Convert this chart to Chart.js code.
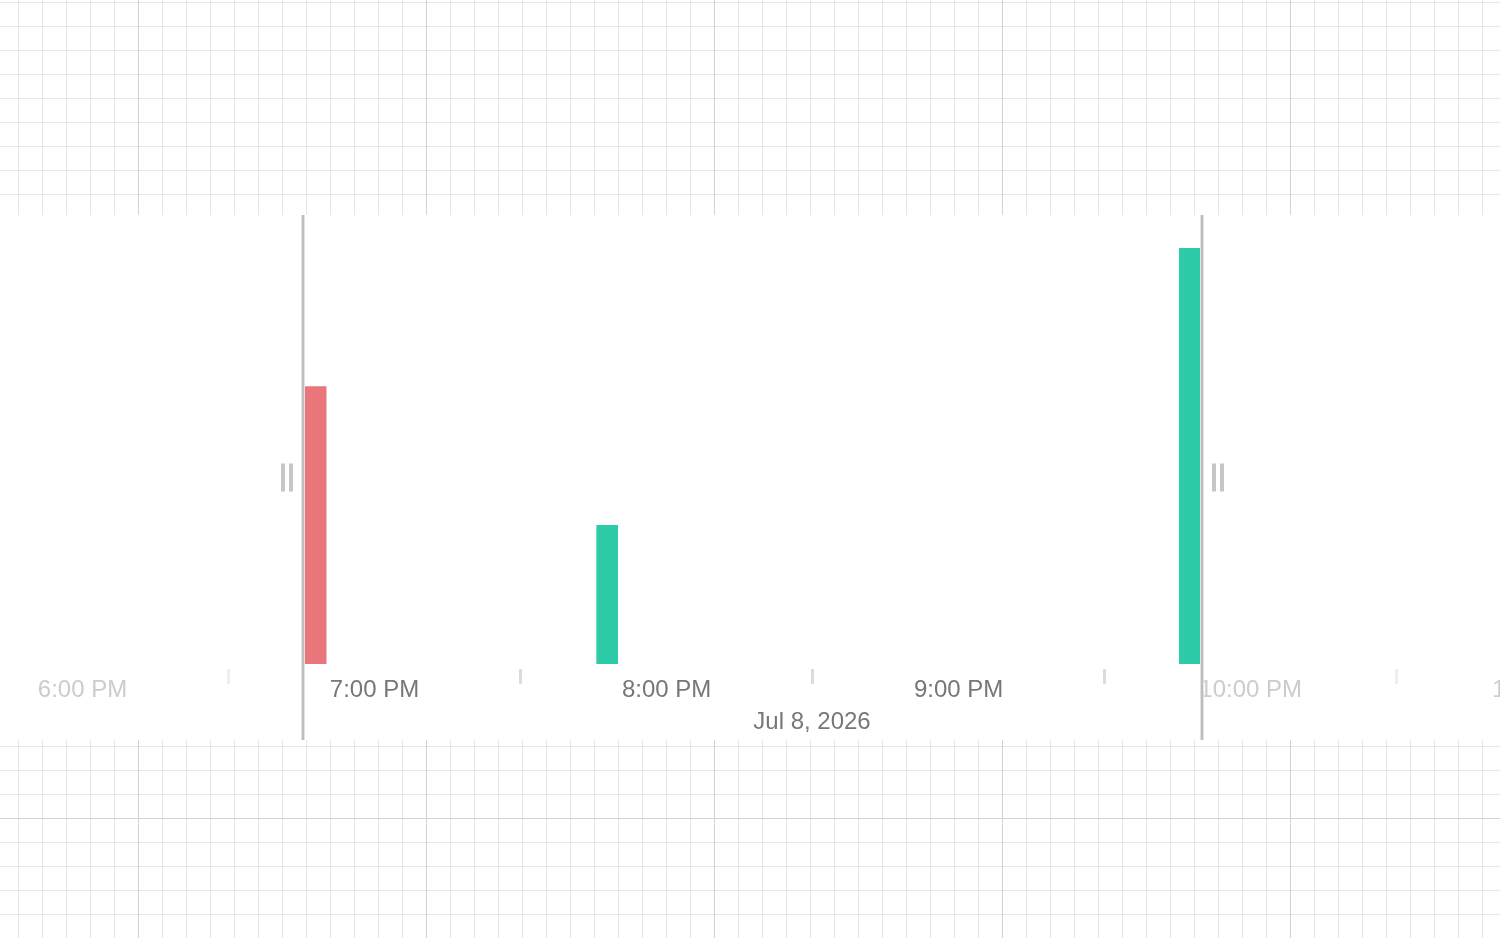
<!DOCTYPE html>
<html>
<head>
<meta charset="utf-8">
<script src="https://cdn.jsdelivr.net/npm/chart.js@4/dist/chart.umd.min.js"></script>
<style>
  html, body {
    margin: 0;
    width: 1500px;
    height: 938px;
    overflow: hidden;
  }
  body {
    background-color: #fff;
    background-image:
      linear-gradient(to right, #d2d2d2 1px, transparent 1px),
      linear-gradient(to bottom, #d2d2d2 1px, transparent 1px),
      linear-gradient(to right, #e6e6e6 1px, transparent 1px),
      linear-gradient(to bottom, #e6e6e6 1px, transparent 1px);
    background-size: 288px 288px, 288px 288px, 24px 24px, 24px 24px;
    background-position: 138px 0, 0 242px, 18px 2px, 18px 2px;
  }
  #timeline {
    position: absolute;
    top: 215px;
    left: 0;
    width: 1624px;
    height: 525px;
    background: #fff;
  }
</style>
</head>
<body>
<div id="timeline"><canvas id="timeline-chart"></canvas></div>
<script>
// minutes after 6:00 PM
const barMinutes = [47.9, 107.8, 227.5]
const barCounts = [2, 1, 3]
const barStatus = ['error', 'ok', 'ok']

const viewStart = -16.95
const viewEnd = 316.7
const selection = [45.3, 230.0]
const dayLabel = 'Jul 8, 2026'

const statusColors = { error: '#e8767a', ok: '#2ecba9' }
const fontFamily = '"Liberation Sans", Arial, sans-serif'

function inSelection(value) {
    return value >= selection[0] && value <= selection[1]
}

function hourLabel(value) {
    if (value % 60 !== 0) return ''
    let h = 6 + value / 60
    if (h > 12) h = h - 12
    return h + ':00 PM'
}

// selection handles drawn over the chart
const selectionPlugin = {
    id: 'selection',
    afterDraw(chart) {
        const ctx = chart.ctx
        const xScale = chart.scales.x
        const h = chart.height
        const mid = h / 2
        selection.forEach((value, i) => {
            const x = Math.round(xScale.getPixelForValue(value))
            ctx.save()
            ctx.fillStyle = '#e2e2e2'
            ctx.fillRect(x - 2, 0, 4, h)
            ctx.fillStyle = '#bebebe'
            ctx.fillRect(x - 1, 0, 2, h)

            // grip
            const dir = i === 0 ? -1 : 1
            ctx.fillStyle = '#c6c6c6'
            const g1 = dir < 0 ? x - 22 : x + 10
            const g2 = dir < 0 ? x - 14 : x + 18
            ctx.fillRect(g1, mid - 14, 4, 28)
            ctx.fillRect(g2, mid - 14, 4, 28)
            ctx.restore()
        })
    }
}

function setTimelineChart() {
    const ctx = document.getElementById('timeline-chart')
    const data = {
        datasets: [{
            label: 'Events',
            data: barMinutes.map((m, i) => ({ x: m, y: barCounts[i] })),
            backgroundColor: barStatus.map(s => statusColors[s]),
            borderWidth: 0,
            barThickness: 21
        }]
    }
    const config = {
        type: 'bar',
        data: data,
        options: {
            animation: false,
            responsive: true,
            maintainAspectRatio: false,
            layout: {
                padding: { top: 33, left: 0, right: 0, bottom: 0 }
            },
            plugins: {
                legend: { display: false },
                tooltip: { enabled: false }
            },
            scales: {
                x: {
                    type: 'linear',
                    min: viewStart,
                    max: viewEnd,
                    offset: false,
                    border: { display: true, width: 10, color: 'rgba(0,0,0,0)' },
                    grid: {
                        offset: false,
                        drawOnChartArea: false,
                        drawTicks: true,
                        tickLength: 20,
                        tickWidth: 3,
                        tickColor: (c) => {
                            const v = c.tick ? c.tick.value : 0
                            if (v % 60 === 0) return 'rgba(0,0,0,0)'
                            return inSelection(v) ? '#dcdcdc' : '#efefef'
                        }
                    },
                    ticks: {
                        stepSize: 30,
                        includeBounds: false,
                        autoSkip: false,
                        maxRotation: 0,
                        padding: -8.4,
                        font: { family: fontFamily, size: 24, lineHeight: 1.2 },
                        color: (c) => inSelection(c.tick.value) ? '#777777' : '#cccccc',
                        callback: (value) => hourLabel(value)
                    },
                    title: {
                        display: true,
                        text: dayLabel,
                        color: '#777777',
                        font: { family: fontFamily, size: 24, lineHeight: 1.2 },
                        padding: { top: 11.6, bottom: 3.6 }
                    }
                },
                y: {
                    display: false,
                    min: 0,
                    max: 3
                }
            }
        },
        plugins: [selectionPlugin]
    }
    new Chart(ctx, config)
}

document.addEventListener("DOMContentLoaded", () => {
    setTimelineChart()
})
</script>
</body>
</html>
